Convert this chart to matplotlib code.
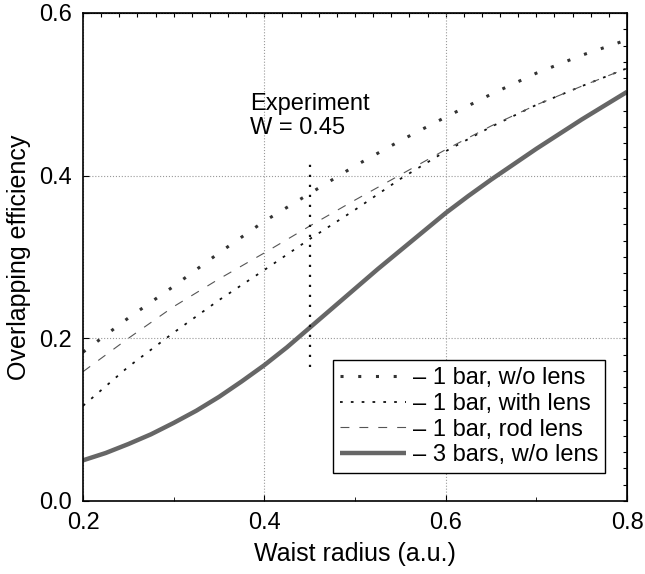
import numpy as np
import matplotlib.pyplot as plt
from matplotlib.ticker import MultipleLocator

plt.rcParams['font.family'] = ['Liberation Sans', 'DejaVu Sans']

# Datos
radio = [0.2, 0.25, 0.3, 0.35, 0.4, 0.45, 0.5, 0.55, 0.6, 0.65, 0.7, 0.75, 0.8]
sin_lente = [0.183, 0.225, 0.264, 0.305, 0.344, 0.378, 0.412, 0.443, 0.472, 0.500, 0.526, 0.548, 0.567]
con_lente = [0.117, 0.165, 0.207, 0.247, 0.284, 0.322, 0.358, 0.396, 0.430, 0.460, 0.487, 0.510, 0.532]
lente_barra = [0.159, 0.200, 0.239, 0.273, 0.305, 0.338, 0.370, 0.401, 0.432, 0.461, 0.487, 0.510, 0.532]

radio_3b = [0.2, 0.225, 0.25, 0.275, 0.3, 0.325, 0.35, 0.375, 0.4, 0.425, 0.45, 0.475,
            0.5, 0.525, 0.55, 0.575, 0.6, 0.625, 0.65, 0.675, 0.7, 0.725, 0.75, 0.775, 0.8]
tres_barras = [0.050, 0.059, 0.070, 0.082, 0.096, 0.111, 0.128, 0.147, 0.167, 0.189, 0.213, 0.237,
               0.261, 0.285, 0.308, 0.331, 0.354, 0.375, 0.395, 0.414, 0.433, 0.451, 0.469, 0.486, 0.503]

w_exp = 0.45
rango_exp = [0.165, 0.423]

etiquetas = ["\u2013 1 bar, w/o lens", "\u2013 1 bar, with lens",
             "\u2013 1 bar, rod lens", "\u2013 3 bars, w/o lens"]

fig = plt.figure(figsize=(6.45, 5.74), dpi=100)
ax = fig.add_axes([0.1287, 0.1272, 0.8434, 0.8502])

ax.plot(radio, sin_lente, color='#333333', lw=2.2, linestyle=(0, (1, 4.8)), label=etiquetas[0])
ax.plot(radio, con_lente, color='#111111', lw=1.3, linestyle=(0, (1.5, 4.5)), label=etiquetas[1])
ax.plot(radio, lente_barra, color='#555555', lw=0.8, linestyle=(0, (8, 9)), label=etiquetas[2])
ax.plot(radio_3b, tres_barras, color='#666666', lw=3.2, solid_capstyle='butt', label=etiquetas[3])

# linea del experimento
ax.plot([w_exp, w_exp], rango_exp, color='#111111', lw=1.6, linestyle=(0, (1, 3.5)))
ax.text(0.384, 0.502, "Experiment\nW = 0.45", fontsize=17, va='top', ha='left', linespacing=1.15)

ax.set_xlim(0.2, 0.8)
ax.set_ylim(0.0, 0.6)
ax.set_xticks([0.2, 0.4, 0.6, 0.8])
ax.set_yticks([0.0, 0.2, 0.4, 0.6])
ax.set_xticklabels(["0.2", "0.4", "0.6", "0.8"])
ax.set_yticklabels(["0.0", "0.2", "0.4", "0.6"])
ax.xaxis.set_minor_locator(MultipleLocator(0.1))
ax.tick_params(axis='both', which='major', direction='in', length=4, labelsize=17, pad=8)
ax.tick_params(axis='both', which='minor', direction='in', length=3)
ax.grid(True, which='major', color='#999999', linestyle=':', lw=0.8)

sup = ax.secondary_xaxis('top')
sup.xaxis.set_major_locator(MultipleLocator(0.02))
sup.tick_params(direction='in', length=3, labeltop=False)
der = ax.secondary_yaxis('right')
der.yaxis.set_major_locator(MultipleLocator(0.02))
der.tick_params(direction='in', length=3, labelright=False)

for s in ax.spines.values():
    s.set_linewidth(1.2)

ax.set_xlabel("Waist radius (a.u.)", fontsize=18, labelpad=6)
ax.set_ylabel("Overlapping efficiency", fontsize=18, labelpad=6)

leg = ax.legend(loc='lower right', bbox_to_anchor=(0.96, 0.057), fontsize=17,
                fancybox=False, framealpha=1, edgecolor='black', handlelength=2.8,
                handletextpad=0.3, labelspacing=0.15, borderpad=0.3, borderaxespad=0)
leg.get_frame().set_linewidth(1.0)

fig.savefig("out.png", dpi=100)
